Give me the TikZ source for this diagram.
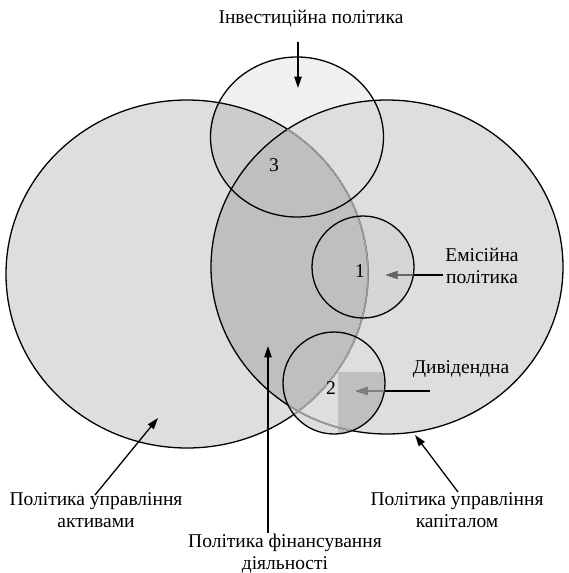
\documentclass[tikz,border=0pt]{standalone}
\usepackage{fontspec}
\setmainfont{Liberation Serif}
\usetikzlibrary{arrows.meta,positioning}
\definecolor{gPale}{gray}{0.94}
\definecolor{gLight}{gray}{0.87}
\definecolor{gMid}{gray}{0.80}
\definecolor{gDark}{gray}{0.75}
\newcommand{\assetsE}{(187,274) ellipse [x radius=181, y radius=174]}
\newcommand{\capitalE}{(387,267) ellipse [x radius=176, y radius=167]}
\newcommand{\investC}{(297,137) ellipse [x radius=86.5, y radius=80]}
\newcommand{\emisC}{(363,267) circle [radius=51]}
\newcommand{\divC}{(334,383) circle [radius=51]}
\tikzset{
  lbl/.style={align=center, font=\fontsize{19.5}{22}\selectfont, inner sep=0pt, anchor=base},
  num/.style={font=\fontsize{19.5}{22}\selectfont, inner sep=0pt},
  edge/.style={line width=1.3pt, draw=black},
  seam/.style={line width=1.5pt, draw=gray!75},
  arrow/.style={-{Triangle[length=4mm,width=2.6mm]}, line width=1.3pt, draw=black}
}
\begin{document}
\begin{tikzpicture}[x=1pt,y=-1pt]
  \useasboundingbox (0,0) rectangle (569,573);
  % shaded areas
  \fill[gPale] \investC;
  \fill[gLight] \divC;
  \fill[gLight] \assetsE;
  \fill[gLight] \capitalE;
  \begin{scope}
    \clip \investC;
    \fill[gMid] \assetsE;
  \end{scope}
  \begin{scope}
    \clip \emisC;
    \fill[gMid!50!gLight] \capitalE;
  \end{scope}
  \begin{scope}
    \clip \assetsE;
    \fill[gDark] \capitalE;
  \end{scope}
  \begin{scope}
    \clip \divC;
    \fill[gDark] (338,372) rectangle (390,440);
  \end{scope}
  % outlines
  \draw[edge] \assetsE;
  \draw[edge] \capitalE;
  \begin{scope}
    \clip \capitalE;
    \draw[seam] \assetsE;
  \end{scope}
  \begin{scope}
    \clip \divC;
    \draw[seam] \assetsE;
    \draw[seam] \capitalE;
  \end{scope}
  \draw[edge] \investC;
  \draw[edge] \emisC;
  \draw[edge] \divC;
  % numbers
  \node[num] (n1) at (360,271) {1};
  \node[num] (n2) at (331,388) {2};
  \node[num] (n3) at (274,165) {3};
  % labels (base = last line)
  \node[lbl] (invest) at (311,23) {Інвестиційна політика};
  \node[lbl] (emis) at (482,283) {Емісійна\\політика};
  \node[lbl] (divid) at (461,373) {Дивідендна};
  \node[lbl] (assets) at (96,527) {Політика управління\\активами};
  \node[lbl] (capital) at (457,527) {Політика управління\\капіталом};
  \node[lbl] (finance) at (285,569) {Політика фінансування\\діяльності};
  % arrow ends
  \coordinate (investT) at (298,42);
  \coordinate (investH) at (298,88);
  \coordinate (emisT) at (443,275);
  \coordinate (emisH) at (386,275);
  \coordinate (dividT) at (430,391);
  \coordinate (dividH) at (356,391);
  \coordinate (assetsT) at (95,495);
  \coordinate (assetsH) at (158,418);
  \coordinate (capitalT) at (458,492);
  \coordinate (capitalH) at (415,435);
  \coordinate (financeT) at (268,533);
  \coordinate (financeH) at (268,346);
  % arrows
  \draw[arrow] (investT) -- (investH);
  \draw[arrow] (emisT) -- (emisH);
  \draw[arrow] (dividT) -- (dividH);
  \begin{scope}
    \clip \emisC;
    \draw[arrow, draw=black!60, fill=black!60] (emisT) -- (emisH);
  \end{scope}
  \begin{scope}
    \clip \divC;
    \draw[arrow, draw=gray, fill=gray] (dividT) -- (dividH);
  \end{scope}
  \draw[arrow] (assetsT) -- (assetsH);
  \draw[arrow] (capitalT) -- (capitalH);
  \draw[arrow] (financeT) -- (financeH);
\end{tikzpicture}
\end{document}
